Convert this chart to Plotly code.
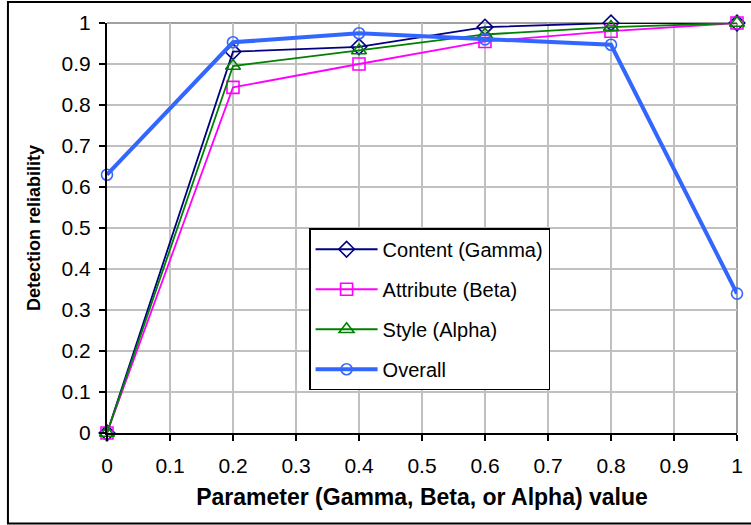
import plotly.graph_objects as go

x_vals = [0, 0.2, 0.4, 0.6, 0.8, 1.0]
content_gamma = [0.0, 0.93, 0.942, 0.99, 1.0, 1.0]
attribute_beta = [0.0, 0.843, 0.90, 0.955, 0.98, 1.0]
style_alpha = [0.0, 0.895, 0.933, 0.972, 0.99, 1.0]
overall = [0.63, 0.953, 0.975, 0.96, 0.947, 0.34]

x_ticks = [0, 0.1, 0.2, 0.3, 0.4, 0.5, 0.6, 0.7, 0.8, 0.9, 1]
x_tick_labels = ["0", "0.1", "0.2", "0.3", "0.4", "0.5", "0.6", "0.7", "0.8", "0.9", "1"]
y_ticks = [0, 0.1, 0.2, 0.3, 0.4, 0.5, 0.6, 0.7, 0.8, 0.9, 1]
y_tick_labels = ["0", "0.1", "0.2", "0.3", "0.4", "0.5", "0.6", "0.7", "0.8", "0.9", "1"]

FONT = "Liberation Sans, Arial, sans-serif"

fig = go.Figure()
series = [
    ("Content (Gamma)", content_gamma, "#000080", "diamond-open", 12, 1.8),
    ("Attribute (Beta)", attribute_beta, "#FF00FF", "square-open", 12, 1.8),
    ("Style (Alpha)", style_alpha, "#008000", "triangle-up-open", 13, 1.8),
    ("Overall", overall, "#3366FF", "circle-open", 11, 4),
]
for i, (name, ys, col, sym, sz, lw) in enumerate(series):
    fig.add_trace(go.Scatter(
        x=x_vals, y=ys, name=name, mode="lines+markers",
        line=dict(color=col, width=lw),
        marker=dict(symbol=sym, size=sz, color=col, line=dict(color=col, width=1.6)),
        legendgroup="g%d" % i, cliponaxis=False,
    ))

fig.update_layout(
    width=751, height=525,
    margin=dict(l=107, r=8, t=23, b=92),
    paper_bgcolor="white", plot_bgcolor="white",
    font=dict(family=FONT, size=20, color="black"),
    showlegend=True,
    legend=dict(
        x=(311 - 107) / 636, y=(432.5 - 228) / 409.5, xanchor="left", yanchor="top",
        bordercolor="black", borderwidth=1.5, bgcolor="white",
        font=dict(family=FONT, size=20, color="black"),
        tracegroupgap=11, itemwidth=62,
    ),
    xaxis=dict(
        range=[0, 1], tickvals=x_ticks, ticktext=x_tick_labels,
        showgrid=True, gridcolor="#C0C0C0", gridwidth=1.5,
        showline=True, linecolor="black", linewidth=2,
        ticks="outside", ticklen=6, tickwidth=1.5, tickcolor="black",
        zeroline=False, ticklabelstandoff=7,
        tickfont=dict(family=FONT, size=21),
        title=dict(text="<b>Parameter (Gamma, Beta, or Alpha) value</b>",
                   font=dict(family=FONT, size=23), standoff=13),
    ),
    yaxis=dict(
        range=[0, 1], tickvals=y_ticks, ticktext=y_tick_labels,
        showgrid=True, gridcolor="#C0C0C0", gridwidth=1.5,
        showline=True, linecolor="black", linewidth=2,
        ticks="outside", ticklen=6, tickwidth=1.5, tickcolor="black",
        zeroline=False, ticklabelstandoff=4,
        tickfont=dict(family=FONT, size=21),
        title=dict(text="<b>Detection reliability</b>",
                   font=dict(family=FONT, size=18), standoff=16),
    ),
    shapes=[
        dict(type="line", xref="paper", yref="paper", x0=0, x1=1, y0=1, y1=1,
             line=dict(color="#808080", width=1.5), layer="below"),
        dict(type="line", xref="paper", yref="paper", x0=1, x1=1, y0=0, y1=1,
             line=dict(color="#808080", width=1.5), layer="below"),
        dict(type="rect", xref="paper", yref="paper",
             x0=(7 - 107) / 636, x1=(760 - 107) / 636,
             y0=(432.5 - 523) / 409.5, y1=(432.5 - 2) / 409.5,
             line=dict(color="black", width=2), fillcolor="rgba(0,0,0,0)"),
    ],
)

fig.write_html("out.html")
